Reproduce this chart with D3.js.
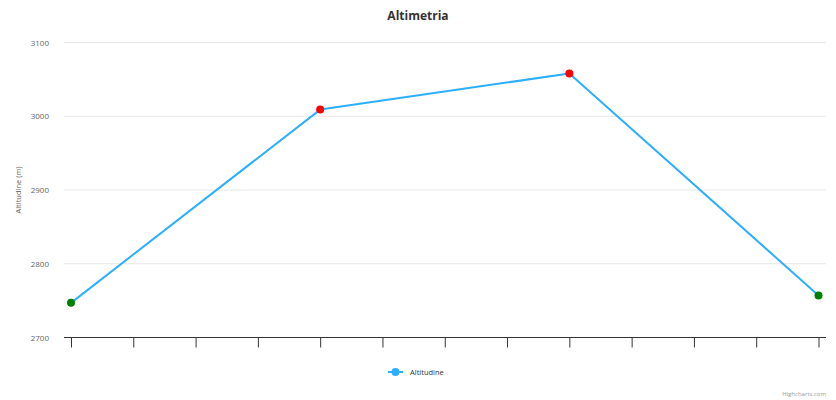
<!DOCTYPE html>
<html><head><meta charset="utf-8">
<script src="https://cdn.jsdelivr.net/npm/d3@7"></script>
<style>body{margin:0;background:#fff}svg{display:block;font-family:"Open Sans",Arial,sans-serif}</style>
</head><body><svg id="c" width="836" height="400"></svg>
<script>
const xValues = [0, 4, 8, 12];
const altitudes = [2747, 3009, 3058, 2757];
const markerColors = ["#008000", "#ff0000", "#ff0000", "#008000"];
const yTicks = [2700, 2800, 2900, 3000, 3100];
const xTicks = [0,1,2,3,4,5,6,7,8,9,10,11,12];
const seriesName = "Altitudine";

const svg = d3.select("#c");
const x = d3.scaleLinear().domain([0, 12]).range([71, 818.5]);
const y = d3.scaleLinear().domain([2700, 3100]).range([337.5, 42.5]);

// gridlines
svg.append("g").selectAll("line").data(yTicks.slice(1)).join("line")
  .attr("x1", 64).attr("x2", 826).attr("y1", d => y(d)).attr("y2", d => y(d))
  .attr("stroke", "#e6e6e6").attr("stroke-width", 1);

// y labels
svg.append("g").selectAll("text").data(yTicks).join("text")
  .attr("x", 49).attr("y", d => y(d) + 3).attr("text-anchor", "end")
  .attr("font-size", 8).attr("fill", "#666").text(d => d);

// x axis
const xa = svg.append("g").attr("transform", "translate(0,337.5)")
  .call(d3.axisBottom(x).tickValues(xTicks).tickFormat("").tickSize(10).tickSizeOuter(0));
xa.select(".domain").remove();
xa.selectAll("line").attr("stroke", "#333");
svg.append("line").attr("x1", 64).attr("x2", 826).attr("y1", 337.5).attr("y2", 337.5).attr("stroke", "#333");

// line
const line = d3.line().x((d, i) => x(xValues[i])).y(d => y(d));
svg.append("path").datum(altitudes).attr("d", line).attr("fill", "none")
  .attr("stroke", "#2caffe").attr("stroke-width", 2).attr("stroke-linejoin", "round");
svg.append("g").selectAll("circle").data(altitudes).join("circle")
  .attr("cx", (d, i) => x(xValues[i])).attr("cy", d => y(d)).attr("r", 4)
  .attr("fill", (d, i) => markerColors[i]);

// title
svg.append("text").attr("x", 418).attr("y", 20).attr("text-anchor", "middle")
  .attr("font-size", 12).attr("font-weight", "bold").attr("fill", "#333").text("Altimetria");

// y title
svg.append("text").attr("transform", "translate(21,190) rotate(-90)").attr("text-anchor", "middle")
  .attr("font-size", 7.5).attr("fill", "#666").text("Altitudine (m)");

// legend
svg.append("line").attr("x1", 388).attr("x2", 403).attr("y1", 372).attr("y2", 372).attr("stroke", "#2caffe").attr("stroke-width", 2);
svg.append("circle").attr("cx", 395.5).attr("cy", 372).attr("r", 4).attr("fill", "#2caffe");
svg.append("text").attr("x", 410).attr("y", 375).attr("font-size", 7.5).attr("fill", "#333").text(seriesName);

// credits
svg.append("text").attr("x", 826).attr("y", 396).attr("text-anchor", "end")
  .attr("font-size", 6).attr("fill", "#999").text("Highcharts.com");
</script></body></html>
